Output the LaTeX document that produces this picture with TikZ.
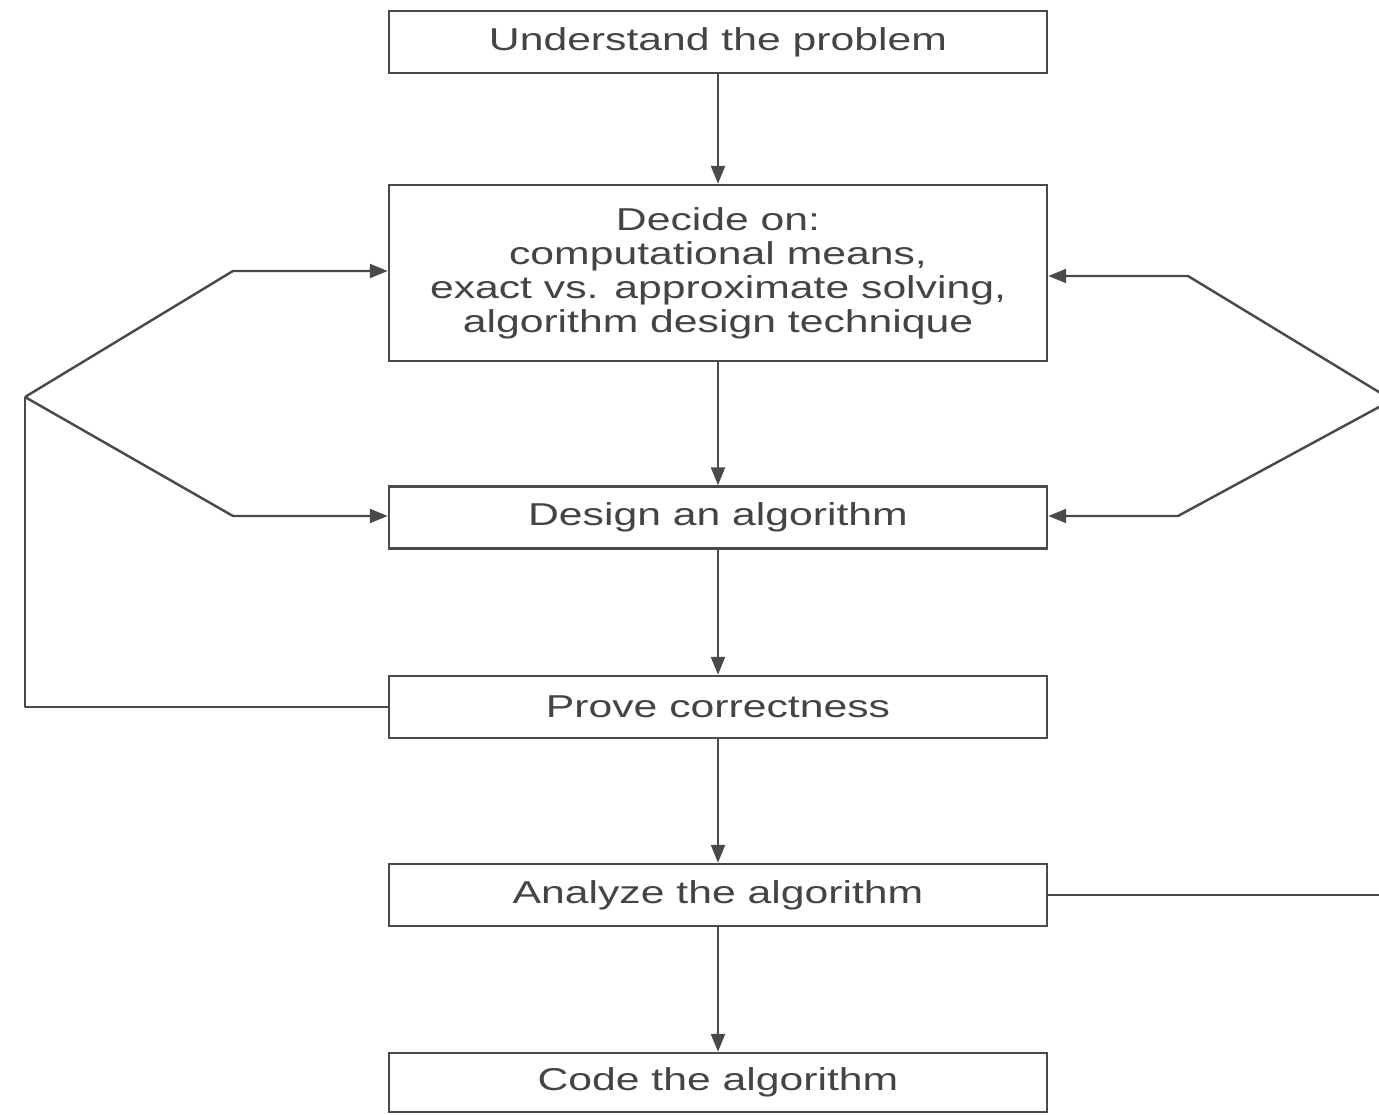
\documentclass[tikz,border=0pt]{standalone}
\usepackage{fontspec}
\setmainfont{Liberation Sans}[FakeStretch=1.35]
\usetikzlibrary{arrows.meta}
\definecolor{linegray}{HTML}{4A4A4A}
\definecolor{textgray}{HTML}{444444}

\begin{document}
\begin{tikzpicture}
  [stage/.style={draw=linegray,line width=0.7pt,text=textgray,minimum width=6.58cm,minimum height=0.62cm,
     inner sep=0pt,align=center,font=\fontsize{9}{9.7}\selectfont},
   link/.style={draw=linegray,line width=0.7pt,line join=round},
   flow/.style={link,-{Triangle[length=0.18cm,width=0.14cm]}}]
    \clip (0,0) rectangle (13.79,-11.15);

    \node (und) [stage] at (7.18,-0.42)  {Understand the problem};
    \node (dec) [stage,minimum height=1.76cm] at (7.18,-2.73)
      {Decide on:\\computational means,\\exact vs. approximate solving,\\algorithm design technique};
    \node (des) [stage] at (7.18,-5.175) {Design an algorithm};
    \node (prv) [stage] at (7.18,-7.07)  {Prove correctness};
    \node (ana) [stage] at (7.18,-8.95)  {Analyze the algorithm};
    \node (cod) [stage,minimum height=0.59cm] at (7.18,-10.825) {Code the algorithm};

    % turning points of the two loops
    \coordinate (lj) at (0.25,-3.97);
    \coordinate (lu) at (2.33,-2.71);
    \coordinate (ld) at (2.33,-5.16);
    \coordinate (rj) at (13.92,-4.00);
    \coordinate (ru) at (11.88,-2.76);
    \coordinate (rd) at (11.78,-5.16);

    \foreach \from/\to in {und/dec,dec/des,des/prv,prv/ana,ana/cod}
      \draw[flow] (\from) -- (\to);

    \draw[link] (prv.west) -- (prv.west -| lj) -- (lj);
    \draw[flow] (lj) -- (lu) -- (lu -| dec.west);
    \draw[flow] (lj) -- (ld) -- (ld -| des.west);

    \draw[link] (ana.east) -- (ana.east -| rj) -- (rj);
    \draw[flow] (rj) -- (ru) -- (ru -| dec.east);
    \draw[flow] (rj) -- (rd) -- (rd -| des.east);
  \end{tikzpicture}
\end{document}
